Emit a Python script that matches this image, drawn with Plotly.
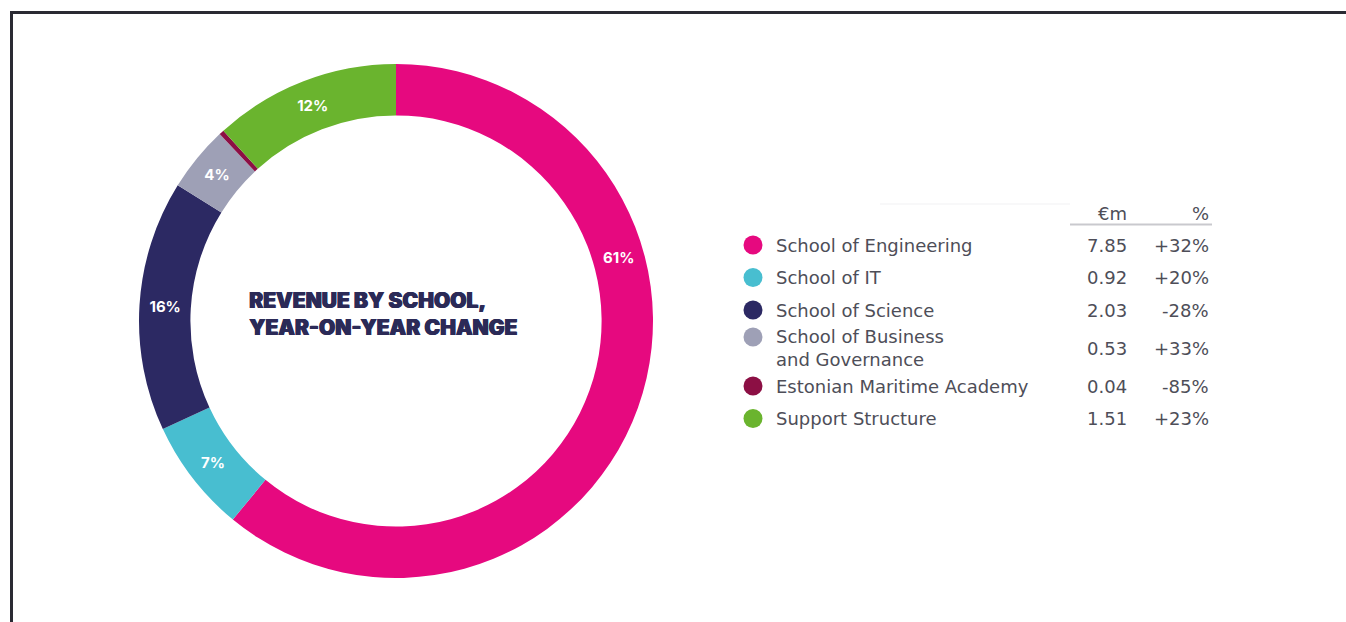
import math
import plotly.graph_objects as go

# ---------------- data ----------------
schools = ["School of Engineering", "School of IT", "School of Science",
           "School of Business<br>and Governance", "Estonian Maritime Academy",
           "Support Structure"]
revenue_m = [7.85, 0.92, 2.03, 0.53, 0.04, 1.51]
yoy_change = ["+32%", "+20%", "-28%", "+33%", "-85%", "+23%"]
share_labels = ["61%", "7%", "16%", "4%", "", "12%"]
colors = ["#e6097f", "#48bed0", "#2c2963", "#9ea0b6", "#8c0f44", "#6ab42e"]
title_lines = ["REVENUE BY SCHOOL,", "YEAR-ON-YEAR CHANGE"]

# ---------------- layout constants (pixels) ----------------
W, H = 1346, 622
CX, CY, R_OUT = 396, 321, 257
HOLE = 0.80

def px(x):
    return x / W

def py(y):
    return 1 - y / H

fig = go.Figure()

# donut; the engineering label is placed separately (as in the original)
pie_text = [t if i != 0 else "" for i, t in enumerate(share_labels)]
fig.add_trace(go.Pie(
    labels=[s.replace("<br>", " ") for s in schools],
    values=revenue_m,
    text=pie_text,
    textinfo="text",
    textposition="inside",
    insidetextorientation="horizontal",
    textfont=dict(family="Inter", size=15, color="white", weight=700),
    marker=dict(colors=colors, line=dict(width=0)),
    hole=HOLE,
    sort=False,
    direction="clockwise",
    rotation=0,
    domain=dict(x=[px(CX - R_OUT), px(CX + R_OUT)],
                y=[py(CY + R_OUT), py(CY - R_OUT)]),
    showlegend=False,
    hoverinfo="label+value+percent",
))

annotations = []
shapes = []

# engineering label at its printed angle
lab_angle = math.radians(74)
r_mid = R_OUT * (1 + HOLE) / 2
annotations.append(dict(
    x=px(CX + r_mid * math.sin(lab_angle)), y=py(CY - r_mid * math.cos(lab_angle)),
    xref="paper", yref="paper", text=share_labels[0], showarrow=False,
    font=dict(family="Inter", size=15, color="white", weight=700)))

# centre title
title_color = "#2b2a57"
annotations.append(dict(
    x=px(247), y=py(313.5), xref="paper", yref="paper", xanchor="left", yanchor="middle",
    align="left", text="<br>".join(title_lines), showarrow=False,
    font=dict(family="Inter", size=21, color=title_color, weight=900,
              shadow=f"0.7px 0 0 {title_color}, -0.3px 0 0 {title_color}")))

# ---------------- legend table ----------------
row_h = [43.5 if "<br>" in s else 32.5 for s in schools]
centers = [245.0]
for i in range(1, len(schools)):
    centers.append(centers[-1] + (row_h[i - 1] + row_h[i]) / 2)
dot_y = [c - 11 if "<br>" in s else c for c, s in zip(centers, schools)]

txt_font = dict(family="DejaVu Sans", size=18, color="#4e4e58")

fig.add_trace(go.Scatter(
    x=[753] * len(schools), y=dot_y, mode="markers",
    marker=dict(size=19, color=colors, line=dict(width=0)),
    xaxis="x", yaxis="y", showlegend=False, hoverinfo="skip"))

for name, val, chg, c in zip(schools, revenue_m, yoy_change, centers):
    annotations.append(dict(x=774, y=c, xref="x", yref="y", xanchor="left", yanchor="middle",
                            align="left", text=name, showarrow=False, font=txt_font))
    annotations.append(dict(x=1129, y=c, xref="x", yref="y", xanchor="right", yanchor="middle",
                            text=f"{val:.2f}", showarrow=False, font=txt_font))
    annotations.append(dict(x=1211, y=c, xref="x", yref="y", xanchor="right", yanchor="middle",
                            text=chg, showarrow=False, font=txt_font))

annotations.append(dict(x=1129, y=213, xref="x", yref="y", xanchor="right", yanchor="middle",
                        text="€m", showarrow=False, font=txt_font))
annotations.append(dict(x=1211, y=213, xref="x", yref="y", xanchor="right", yanchor="middle",
                        text="%", showarrow=False, font=txt_font))

shapes.append(dict(type="line", xref="x", yref="y", x0=1070, x1=1212, y0=224.5, y1=224.5,
                   line=dict(color="#c9c9ce", width=2)))
shapes.append(dict(type="line", xref="x", yref="y", x0=880, x1=1070, y0=204, y1=204,
                   line=dict(color="#f1f1f3", width=1)))

# outer frame (top and left edges)
shapes.append(dict(type="line", xref="x", yref="y", x0=10, x1=W, y0=12.5, y1=12.5,
                   line=dict(color="#2a2a33", width=3)))
shapes.append(dict(type="line", xref="x", yref="y", x0=11.5, x1=11.5, y0=11, y1=H,
                   line=dict(color="#2a2a33", width=3)))

fig.update_layout(
    width=W, height=H,
    margin=dict(l=0, r=0, t=0, b=0),
    paper_bgcolor="white", plot_bgcolor="rgba(0,0,0,0)",
    xaxis=dict(range=[0, W], domain=[0, 1], visible=False, fixedrange=True),
    yaxis=dict(range=[H, 0], domain=[0, 1], visible=False, fixedrange=True),
    annotations=annotations,
    shapes=shapes,
    showlegend=False,
)

fig.write_html("out.html")
